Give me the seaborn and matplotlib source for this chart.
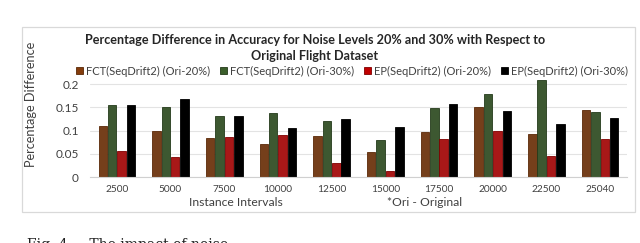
import numpy as np
import pandas as pd
import seaborn as sns
from matplotlib import pyplot as plt
from matplotlib.patches import Rectangle

# %% data
intervals = ['2500', '5000', '7500', '10000', '12500', '15000', '17500', '20000', '22500', '25040']
fct_20 = [0.109, 0.099, 0.084, 0.072, 0.089, 0.054, 0.096, 0.151, 0.093, 0.144]
fct_30 = [0.154, 0.151, 0.132, 0.138, 0.120, 0.079, 0.149, 0.179, 0.209, 0.140]
ep_20 = [0.055, 0.044, 0.087, 0.091, 0.031, 0.013, 0.082, 0.100, 0.046, 0.082]
ep_30 = [0.154, 0.167, 0.132, 0.105, 0.125, 0.107, 0.158, 0.141, 0.113, 0.127]
series = ['FCT(SeqDrift2) (Ori-20%)', 'FCT(SeqDrift2) (Ori-30%)',
          'EP(SeqDrift2) (Ori-20%)', 'EP(SeqDrift2) (Ori-30%)']
colors = ['#843C0C', '#3B5E2B', '#C00000', '#000000']
edges = ['#5a2807', '#243a1a', '#800000', '#000000']

df = pd.DataFrame({'Interval': intervals * 4,
                   'Series': np.repeat(series, len(intervals)),
                   'Value': fct_20 + fct_30 + ep_20 + ep_30})

# %%
sns.set_style('white')
plt.rcParams['font.family'] = ['Lato', 'DejaVu Sans']

fig = plt.figure(figsize=(6.4, 2.43), dpi=100)
ax = fig.add_axes([0.1406, 0.2716, 0.839, 0.4016])

sns.barplot(data=df, x='Interval', y='Value', hue='Series', hue_order=series,
            palette=colors, width=0.7, gap=0.1, ax=ax, legend=False)
for i, cont in enumerate(ax.containers):
    for bar in cont:
        bar.set_edgecolor(edges[i])
        bar.set_linewidth(0.6)

ax.set_ylim(0, 0.21)
ax.set_xlim(-0.5, 9.5)
ax.set_yticks([0, 0.05, 0.1, 0.15, 0.2])
ax.set_yticklabels(['0', '0.05', '0.1', '0.15', '0.2'], fontsize=8.5, color='#404040')
ax.tick_params(axis='x', labelsize=7.3, colors='#404040', length=0, pad=6)
ax.tick_params(axis='y', length=0, pad=8)
ax.yaxis.grid(True, color='#e3e3e3', linewidth=0.8)
ax.set_axisbelow(True)
for s in ['top', 'right', 'left']:
    ax.spines[s].set_visible(False)
ax.spines['bottom'].set_color('#d0d0d0')
ax.set_xlabel('')
ax.set_ylabel('Percentage Difference', fontsize=9.2, color='#404040')
ax.yaxis.set_label_coords(-0.098, 0.74)

fig.text(236 / 640, 1 - 203 / 243, 'Instance Intervals', fontsize=8.7, color='#404040',
         ha='center', va='center')
fig.text(425 / 640, 1 - 203 / 243, '*Ori - Original', fontsize=8.7, color='#404040',
         ha='center', va='center')

# title and legend
fig.text(315 / 640, 1 - 48 / 243,
         'Percentage Difference in Accuracy for Noise Levels 20% and 30% with Respect to\nOriginal Flight Dataset',
         fontsize=9.1, fontweight='bold', ha='center', va='center', linespacing=1.35)
handles = [Rectangle((0, 0), 1, 1, facecolor=c, edgecolor=e, linewidth=0.6) for c, e in zip(colors, edges)]
fig.legend(handles, series, loc='center', bbox_to_anchor=(352 / 640, 1 - 71 / 243), ncol=4,
           frameon=False, fontsize=8.0, handlelength=0.6, handleheight=0.6,
           handletextpad=0.3, columnspacing=0.9, labelcolor='#404040')

# outer chart frame
fig.patches.append(Rectangle((22 / 640, 1 - 212 / 243), 613 / 640, 185 / 243,
                             transform=fig.transFigure, fill=False,
                             edgecolor='#d9d9d9', linewidth=0.9))

# caption, cut off at the bottom edge as in the source
fig.text(27 / 640, 0.022, 'Fig. 4.    The impact of noise', family='DejaVu Serif',
         fontsize=10, va='top', ha='left', color='#222222')

plt.savefig('out.png', dpi=100)
